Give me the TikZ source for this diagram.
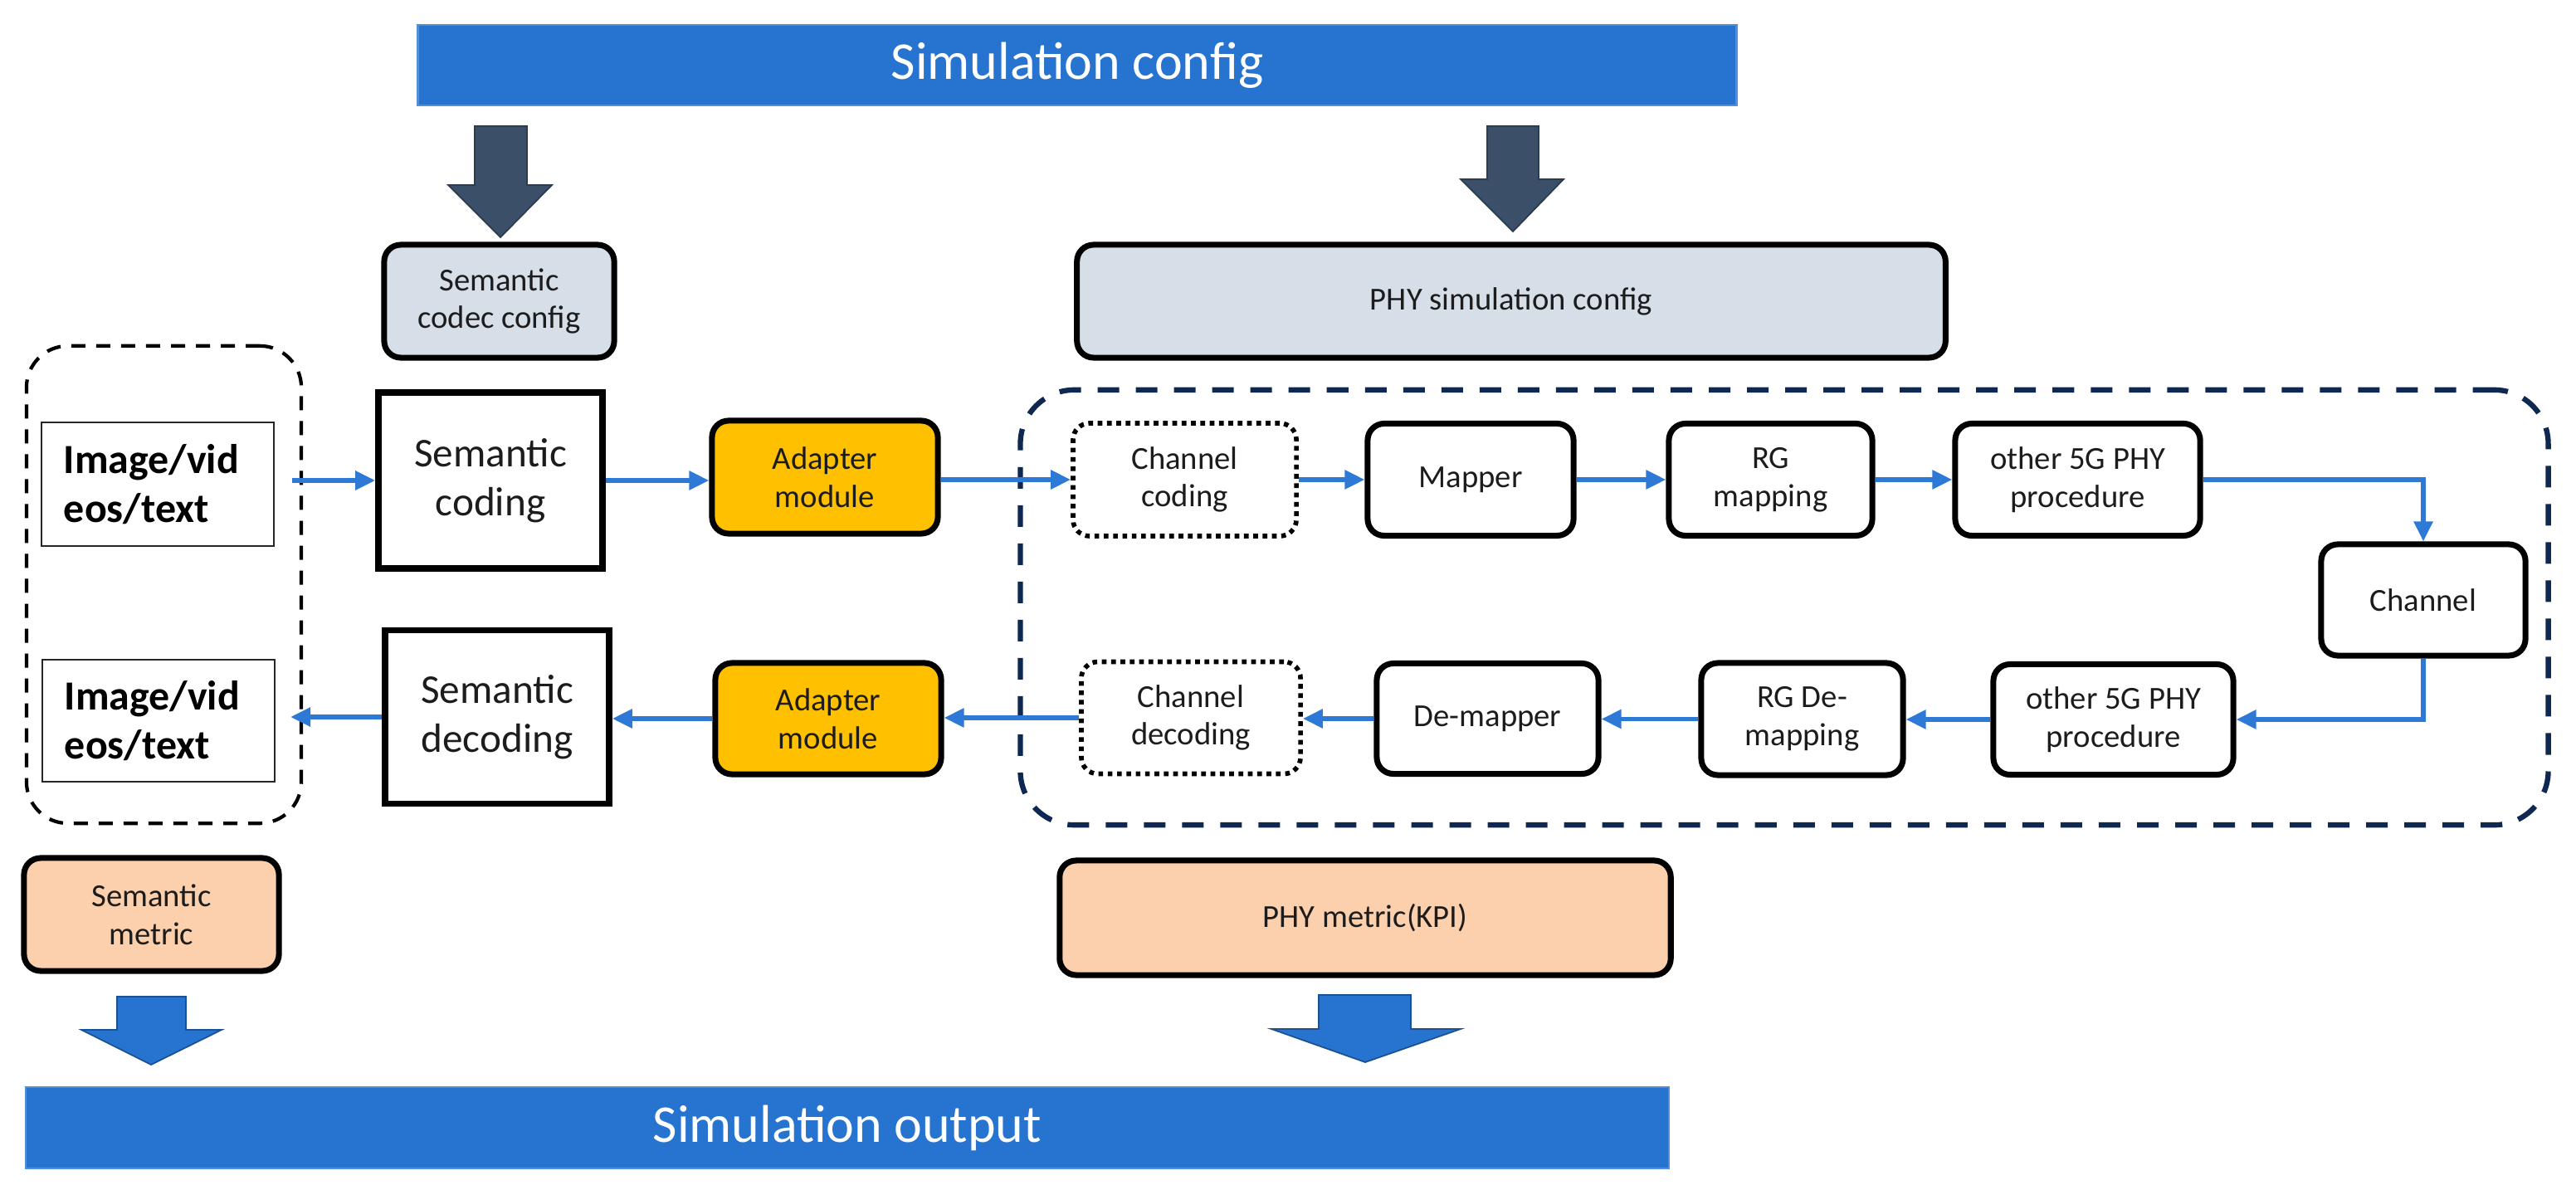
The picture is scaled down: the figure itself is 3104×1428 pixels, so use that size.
\documentclass[tikz,border=0pt]{standalone}
\usepackage{fontspec}
\setmainfont{Carlito}
\usetikzlibrary{arrows.meta,calc}
\definecolor{barblue}{RGB}{38,116,208}
\definecolor{slate}{RGB}{59,80,104}
\definecolor{cfgfill}{RGB}{214,222,232}
\definecolor{adfill}{RGB}{255,192,0}
\definecolor{peach}{RGB}{252,208,172}
\definecolor{navy}{RGB}{14,40,82}
\definecolor{linkblue}{RGB}{46,120,214}
\definecolor{txt}{RGB}{28,28,28}
\begin{document}
\begin{tikzpicture}[x=0.01cm,y=-0.01cm,
  bar/.style={fill=barblue, draw=barblue!80!white, line width=0.6pt, text=white, font=\fontsize{18.2}{22}\selectfont, inner sep=0pt},
  rbox/.style={draw=black, line width=2pt, rounded corners=0.2cm, align=center, inner sep=0pt, text=txt, font=\fontsize{11}{13}\selectfont},
  sqbox/.style={draw=black, line width=2.1pt, align=center, inner sep=0pt, text=txt, font=\fontsize{14}{16.8}\selectfont},
  imgbox/.style={draw=black!85, line width=0.8pt, align=left, inner sep=0pt, text=black, text width=2.26cm, font=\fontsize{14.2}{16.6}\bfseries\selectfont},
  dotbox/.style={draw=black, line width=1.6pt, dash pattern=on 1.6pt off 1.6pt, rounded corners=0.2cm, align=center, inner sep=0pt, text=txt, font=\fontsize{11}{13}\selectfont},
  link/.style={draw=linkblue, line width=1.6pt, -{Triangle[length=0.24cm,width=0.22cm]}},
  blockdark/.style={fill=slate, draw=slate!75!black, line width=0.5pt},
  blockblue/.style={fill=barblue, draw=barblue!70!black, line width=0.5pt}
]
\useasboundingbox (0,0) rectangle (3104,1428);

% group frames
\node[draw=black, line width=1.2pt, dash pattern=on 0.17cm off 0.13cm, rounded corners=0.5cm, minimum width=3.31cm, minimum height=5.75cm, inner sep=0pt] (ldbox) at (197.5,704.5) {};
\node[draw=navy, line width=1.8pt, dash pattern=on 0.26cm off 0.2cm, rounded corners=0.65cm, minimum width=18.40cm, minimum height=5.24cm, inner sep=0pt] (phybox) at (2150,732) {};

% top and bottom bars
\node[bar, minimum width=15.88cm, minimum height=0.97cm] (simcfg) at (1298,78.5) {Simulation config};
\node[bar, minimum width=19.78cm, minimum height=0.98cm] (simout) at (1021,1359) {Simulation output};

% block arrows
\fill[blockdark] (572,152) -- (635,152) -- (635,223) -- (665,223) -- (603,286) -- (540,223) -- (572,223) -- cycle;
\fill[blockdark] (1792,152) -- (1854,152) -- (1854,216) -- (1884,216) -- (1823,279) -- (1760,216) -- (1792,216) -- cycle;
\fill[blockblue] (141,1201) -- (224,1201) -- (224,1241) -- (267,1241) -- (182,1283) -- (98,1241) -- (141,1241) -- cycle;
\fill[blockblue] (1589,1199) -- (1700,1199) -- (1700,1240) -- (1760,1240) -- (1645,1280) -- (1532,1240) -- (1589,1240) -- cycle;

% config boxes
\node[rbox, fill=cfgfill, minimum width=2.77cm, minimum height=1.36cm] (codec) at (601.5,363) {Semantic\\codec config};
\node[rbox, fill=cfgfill, minimum width=10.46cm, minimum height=1.36cm] (phycfg) at (1821,363) {PHY simulation config};

% semantic side
\node[imgbox, minimum width=2.80cm, minimum height=1.49cm] (img1) at (190,583.5) {Image/vid\\eos/text};
\node[imgbox, minimum width=2.80cm, minimum height=1.47cm] (img2) at (191,868.5) {Image/vid\\eos/text};
\node[sqbox, minimum width=2.70cm, minimum height=2.12cm] (sc) at (591,579) {Semantic\\coding};
\node[sqbox, minimum width=2.70cm, minimum height=2.09cm] (sd) at (599,864) {Semantic\\decoding};
\node[rbox, fill=adfill, minimum width=2.72cm, minimum height=1.36cm] (ad1) at (994,575) {Adapter\\module};
\node[rbox, fill=adfill, minimum width=2.72cm, minimum height=1.34cm] (ad2) at (998,866) {Adapter\\module};

% PHY chain
\node[dotbox, minimum width=2.69cm, minimum height=1.36cm] (cc) at (1427.5,578) {Channel\\coding};
\node[rbox, minimum width=2.48cm, minimum height=1.35cm] (map) at (1772,578) {Mapper};
\node[rbox, minimum width=2.45cm, minimum height=1.35cm] (rg) at (2133.5,578) {RG\\mapping};
\node[rbox, minimum width=2.95cm, minimum height=1.35cm] (o5a) at (2503.5,578) {other 5G PHY\\procedure};
\node[rbox, minimum width=2.46cm, minimum height=1.34cm] (ch) at (2920,723) {Channel};
\node[rbox, minimum width=2.89cm, minimum height=1.33cm] (o5b) at (2546.5,867) {other 5G PHY\\procedure};
\node[rbox, minimum width=2.43cm, minimum height=1.35cm] (rgd) at (2171.5,866.5) {RG De-\\mapping};
\node[rbox, minimum width=2.67cm, minimum height=1.33cm] (dm) at (1792.5,866) {De-mapper};
\node[dotbox, minimum width=2.64cm, minimum height=1.35cm] (cd) at (1435,865) {Channel\\decoding};

% metrics
\node[rbox, fill=peach, minimum width=3.07cm, minimum height=1.36cm] (sm) at (182.5,1102) {Semantic\\metric};
\node[rbox, fill=peach, minimum width=7.36cm, minimum height=1.38cm] (pm) at (1645,1106) {PHY metric(KPI)};

% connectors
\coordinate (instart) at (352,579);
\coordinate (outend) at (350,864);
\draw[link] (instart) -- (instart -| sc.west);
\draw[link] (sc.east) -- (sc.east -| ad1.west);
\draw[link] (cc.west -| ad1.east) -- (cc.west);
\draw[link] (cc.east) -- (cc.east -| map.west);
\draw[link] (map.east) -- (map.east -| rg.west);
\draw[link] (rg.east) -- (rg.east -| o5a.west);
\draw[link] (o5a.east) -| (ch.north);
\draw[link] (ch.south) |- (o5b.east);
\draw[link] (o5b.west) -- (o5b.west -| rgd.east);
\draw[link] (rgd.west) -- (rgd.west -| dm.east);
\draw[link] (dm.west) -- (dm.west -| cd.east);
\draw[link] (cd.west) -- (cd.west -| ad2.east);
\draw[link] (ad2.west) -- (ad2.west -| sd.east);
\draw[link] (sd.west) -- (outend);
\end{tikzpicture}
\end{document}
